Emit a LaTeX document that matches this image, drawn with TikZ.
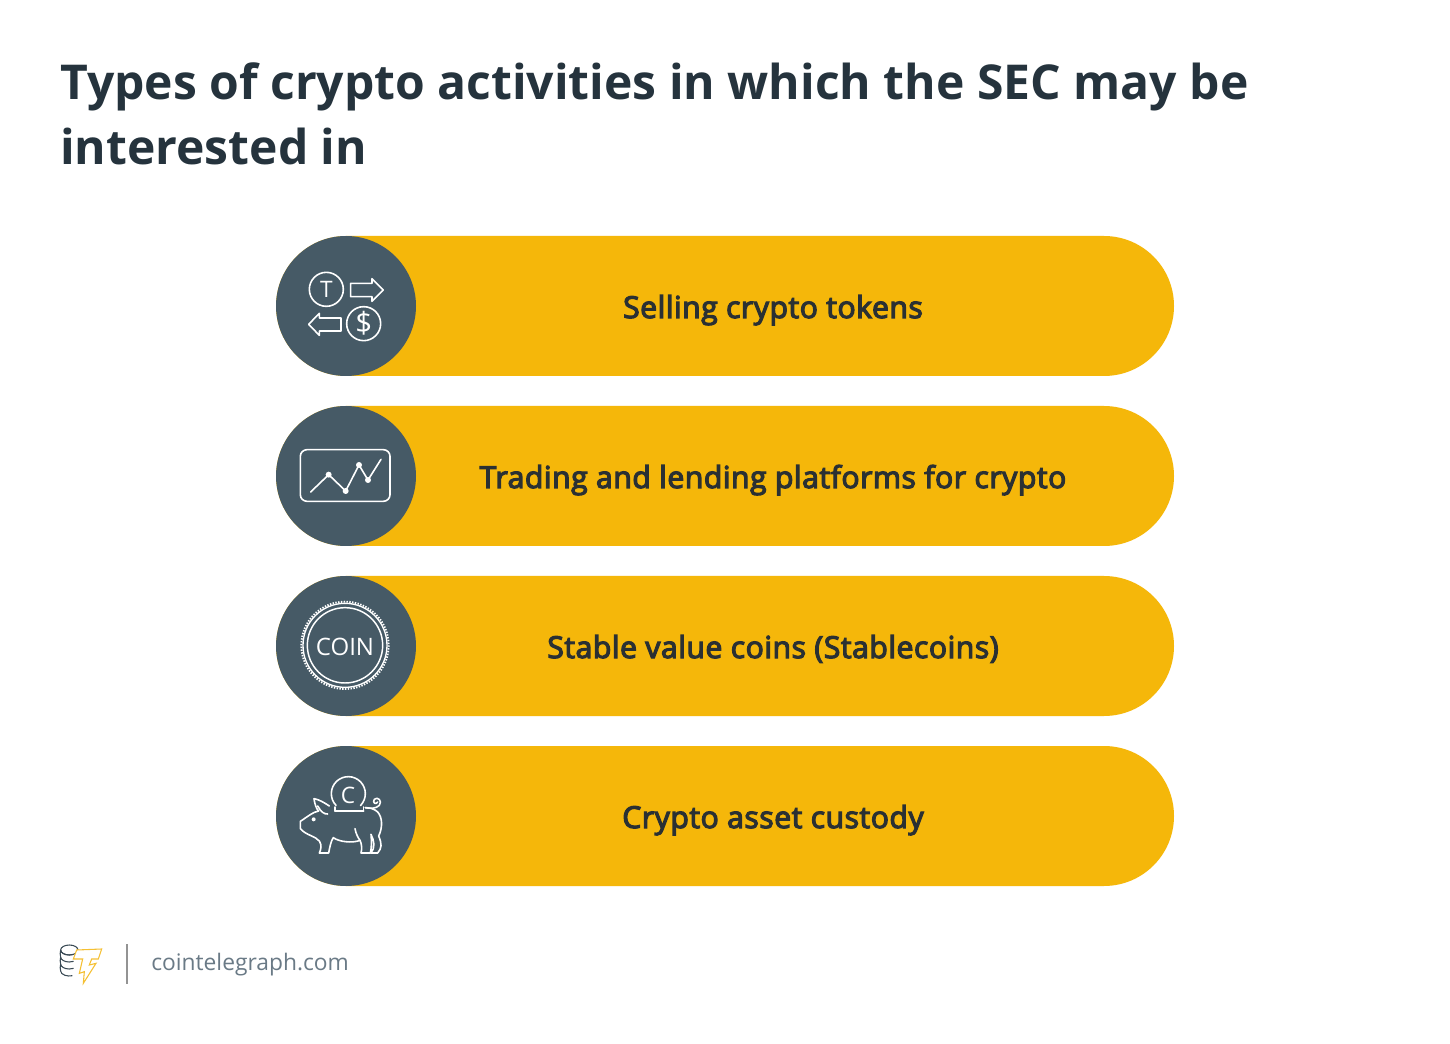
\documentclass[tikz,border=0pt]{standalone}
\usepackage{fontspec}
\setmainfont{Open Sans}
\newfontfamily\semifont[FakeBold=4,LetterSpace=1.8]{Open Sans}
\newfontfamily\lightfont{Open Sans}
\definecolor{pillyellow}{HTML}{F5B70A}
\definecolor{slate}{HTML}{465A66}
\definecolor{titleink}{HTML}{25333D}
\definecolor{labelink}{HTML}{2A3033}
\definecolor{footink}{HTML}{6A7A86}
\definecolor{logoink}{HTML}{3A4A55}
\definecolor{logoyellow}{HTML}{F5C033}
\tikzset{
  x=0.75pt,y=-0.75pt,
  pill/.style={fill=pillyellow,rounded corners=52.5pt},
  disc/.style={circle,fill=slate,minimum size=105pt,inner sep=0pt},
  label/.style={anchor=base,inner sep=0pt,text=labelink,font=\semifont\fontsize{22.6}{27}\selectfont},
  titletext/.style={anchor=base west,inner sep=0pt,text=titleink,font=\bfseries\fontsize{36.03}{42}\selectfont},
  icon/.style={draw=white,line width=1.2pt,line join=round,line cap=round,fill=none},
  icontext/.style={inner sep=0pt,text=white},
  zoomed/.style={x=0.25pt,y=-0.25pt},
}
\begin{document}
\begin{tikzpicture}
\useasboundingbox[fill=white] (0,0) rectangle (1450,1044);
\node[titletext] (t1) at (60,100) {Types of crypto activities in which the SEC may be};
\node[titletext] (t2) at (60,165) {interested in};
% pills
\foreach \n/\y/\txt in {a/236/Selling crypto tokens,b/406/Trading and lending platforms for crypto,c/576/Stable value coins (Stablecoins),d/746/Crypto asset custody}{
  \fill[pill] (276,\y) rectangle (1174,\y+140);
  \node[disc] (disc\n) at (346,\y+70) {};
  \node[label] (lab\n) at (773,\y+82) {\txt};
}
% icon 1
\begin{scope}[shift={(276,236)},zoomed]
  \draw[icon] (151,160) circle (51);
  \node[icontext,font=\fontsize{17}{18}\selectfont] (iT) at (151,160) {T};
  \draw[icon] (224,142) -- (288,142) -- (288,128) -- (322,162) -- (288,196) -- (288,182) -- (224,182) -- cycle;
  \draw[icon] (98,265) -- (130,232) -- (130,246) -- (195,246) -- (195,285) -- (130,285) -- (130,298) -- cycle;
  \draw[icon] (263,263) circle (51);
  \node[icontext,font=\lightfont\fontsize{22}{22}\selectfont] (iS) at (263,263) {\$};
\end{scope}
% icon 2
\begin{scope}[shift={(276,406)},zoomed]
  \draw[icon,rounded corners=5pt] (73,131) rectangle (342,286);
  \draw[icon] (104,258) -- (158,206) -- (209,255) -- (249,177) -- (276,222) -- (315,160);
  \foreach \p in {(158,206),(209,255),(249,177),(276,222)} \fill[white] \p circle (9);
\end{scope}
% icon 3
\begin{scope}[shift={(276,576)},zoomed]
  \draw[white,line width=1.4pt,dash pattern=on 1.05pt off 1.05pt] (207,208) circle (131);
  \draw[icon,line width=1pt] (207,208) circle (126);
  \draw[icon,line width=1.1pt] (207,208) circle (113);
  \node[icontext,font=\lightfont\fontsize{18}{20}\selectfont] (iC) at (207,214) {COIN};
\end{scope}
% icon 4
\begin{scope}[shift={(276,746)},zoomed]
  \draw[icon] (180.3,178.4) arc[start angle=136,end angle=404,radius=51];
  \draw[icon] (177,195) -- (263,195);
  \draw[icon] (177,195) -- (177,183);
  \draw[icon] (263,195) -- (263,183);
  \node[icontext,font=\lightfont\fontsize{17}{20}\selectfont] (iCc) at (216,147) {C};
  \fill[white] (113,220) circle (6);
  \draw[icon]
    (160,180) .. controls (145,170) and (128,160) .. (114,158)
    .. controls (116,175) and (122,190) .. (128,195)
    .. controls (110,198) and (95,212) .. (73,226)
    -- (73,248)
    .. controls (90,268) and (118,270) .. (130,285)
    .. controls (138,297) and (135,310) .. (130,321)
    -- (158,321)
    .. controls (162,300) and (165,285) .. (172,275)
    .. controls (190,288) and (230,292) .. (252,283)
    .. controls (258,295) and (258,310) .. (255,321)
    -- (283,321)
    .. controls (287,305) and (287,285) .. (285,265)
    .. controls (295,285) and (298,305) .. (285,321)
    -- (305,321)
    .. controls (318,305) and (318,295) .. (308,270)
    .. controls (320,245) and (320,215) .. (305,198)
    .. controls (295,188) and (280,185) .. (268,185);
  \draw[icon] (125,180) .. controls (135,198) and (145,205) .. (155,204);
  \draw[icon] (237,248) .. controls (240,265) and (248,278) .. (252,283);
  \draw[icon] (268,185) .. controls (285,188) and (300,188) .. (310,178)
     .. controls (320,165) and (305,150) .. (295,160)
     .. controls (288,170) and (300,178) .. (305,168);
\end{scope}
% logo
\begin{scope}[shift={(50,935)},zoomed]
  \draw[logoink,line width=0.8pt] (58,45) ellipse [x radius=26,y radius=15];
  \draw[logoink,line width=0.8pt] (32,45) arc[start angle=180,end angle=60,x radius=26,y radius=15];
  \draw[logoink,line width=0.8pt] (32,45) .. controls (30,52) and (30,60) .. (32,66) arc[start angle=180,end angle=60,x radius=26,y radius=15];
  \draw[logoink,line width=0.8pt] (32,66) .. controls (30,73) and (30,81) .. (32,87) arc[start angle=180,end angle=60,x radius=26,y radius=15];
  \draw[logoink,line width=0.8pt] (32,87) .. controls (30,94) and (30,102) .. (32,108) arc[start angle=180,end angle=70,x radius=26,y radius=15];
  \filldraw[draw=logoyellow,fill=white,line width=0.8pt,line join=miter]
    (80,45) -- (155,42) -- (145,72) -- (125,72) -- (118,90) -- (138,85) -- (100,145) -- (103,110) -- (88,115) -- (98,72) -- (70,72) -- cycle;
\end{scope}
\coordinate (sepa) at (127,944);
\coordinate (sepb) at (127,984);
\draw[gray!85,line width=1.1pt] (sepa) -- (sepb);
\node[anchor=base west,inner sep=0pt,text=footink,font=\lightfont\fontsize{17.1}{20}\selectfont] (foot) at (151,970) {cointelegraph.com};
\end{tikzpicture}
\end{document}
